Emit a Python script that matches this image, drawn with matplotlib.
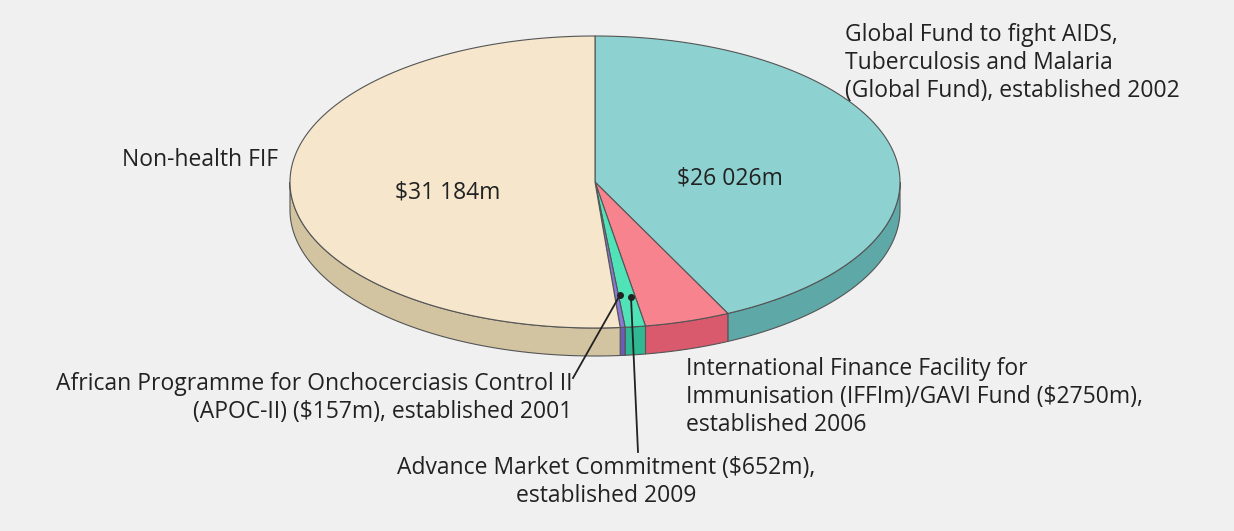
import numpy as np
import matplotlib
matplotlib.use("Agg")
import matplotlib.pyplot as plt
from matplotlib.patches import Polygon

names = ["Global Fund", "IFFIm", "AMC", "APOC-II", "Non-health FIF"]
values = [26026, 2750, 652, 157, 31184]
tops = ["#8dd2d0", "#f7838f", "#4fe3b7", "#8878d8", "#f5e6cc"]
sides = ["#5ea8a8", "#d95a6c", "#2fb892", "#6a5cb8", "#d3c4a1"]

W, H = 1234, 531
fig = plt.figure(figsize=(W/100, H/100), dpi=100)
fig.patch.set_facecolor("#f0f0f0")
ax = fig.add_axes([0, 0, 1, 1])
ax.set_xlim(0, W); ax.set_ylim(H, 0); ax.axis("off")

cx, cy, rx, ry, d = 595, 182, 305, 146, 28
def pt(t):
    r = np.radians(t)
    return cx + rx*np.sin(r), cy - ry*np.cos(r)

total = sum(values)
angles = np.concatenate([[0], np.cumsum(values)/total*360])
ec = "#555555"
for i in range(len(values)):
    a, b = max(angles[i], 90), min(angles[i+1], 270)
    if b <= a: continue
    ts = np.linspace(a, b, 100)
    xs, ys = pt(ts)
    poly = np.vstack([np.column_stack([xs, ys]), np.column_stack([xs[::-1], ys[::-1]+d])])
    ax.add_patch(Polygon(poly, closed=True, fc=sides[i], ec=ec, lw=0.8))
for i in range(len(values)):
    ts = np.linspace(angles[i], angles[i+1], 200)
    xs, ys = pt(ts)
    poly = np.vstack([[cx, cy], np.column_stack([xs, ys])])
    ax.add_patch(Polygon(poly, closed=True, fc=tops[i], ec=ec, lw=0.8))

fs = 16.5
fam = ["Open Sans", "DejaVu Sans"]
kw = dict(fontsize=fs, family=fam, color="#222222", linespacing=1.22)
ax.text(448, 192, "$31 184m", ha="center", va="center", **kw)
ax.text(730, 178, "$26 026m", ha="center", va="center", **kw)
ax.text(122, 160, "Non-health FIF", ha="left", va="center", **kw)
ax.text(845, 63, "Global Fund to fight AIDS,\nTuberculosis and Malaria\n(Global Fund), established 2002", ha="left", va="center", **kw)
ax.text(686, 397, "International Finance Facility for\nImmunisation (IFFIm)/GAVI Fund ($2750m),\nestablished 2006", ha="left", va="center", **kw)
ax.text(572, 398, "African Programme for Onchocerciasis Control II\n(APOC-II) ($157m), established 2001", ha="right", va="center", multialignment="right", **kw)
ax.text(606, 482, "Advance Market Commitment ($652m),\nestablished 2009", ha="center", va="center", multialignment="center", **kw)

ax.plot([620, 573], [295, 378], color="#222222", lw=1.3)
ax.plot(620, 295, "o", color="#222222", ms=4)
ax.plot([631, 638], [297, 452], color="#222222", lw=1.3)
ax.plot(631, 297, "o", color="#222222", ms=4)

fig.savefig("out.png", dpi=100, facecolor=fig.get_facecolor())
